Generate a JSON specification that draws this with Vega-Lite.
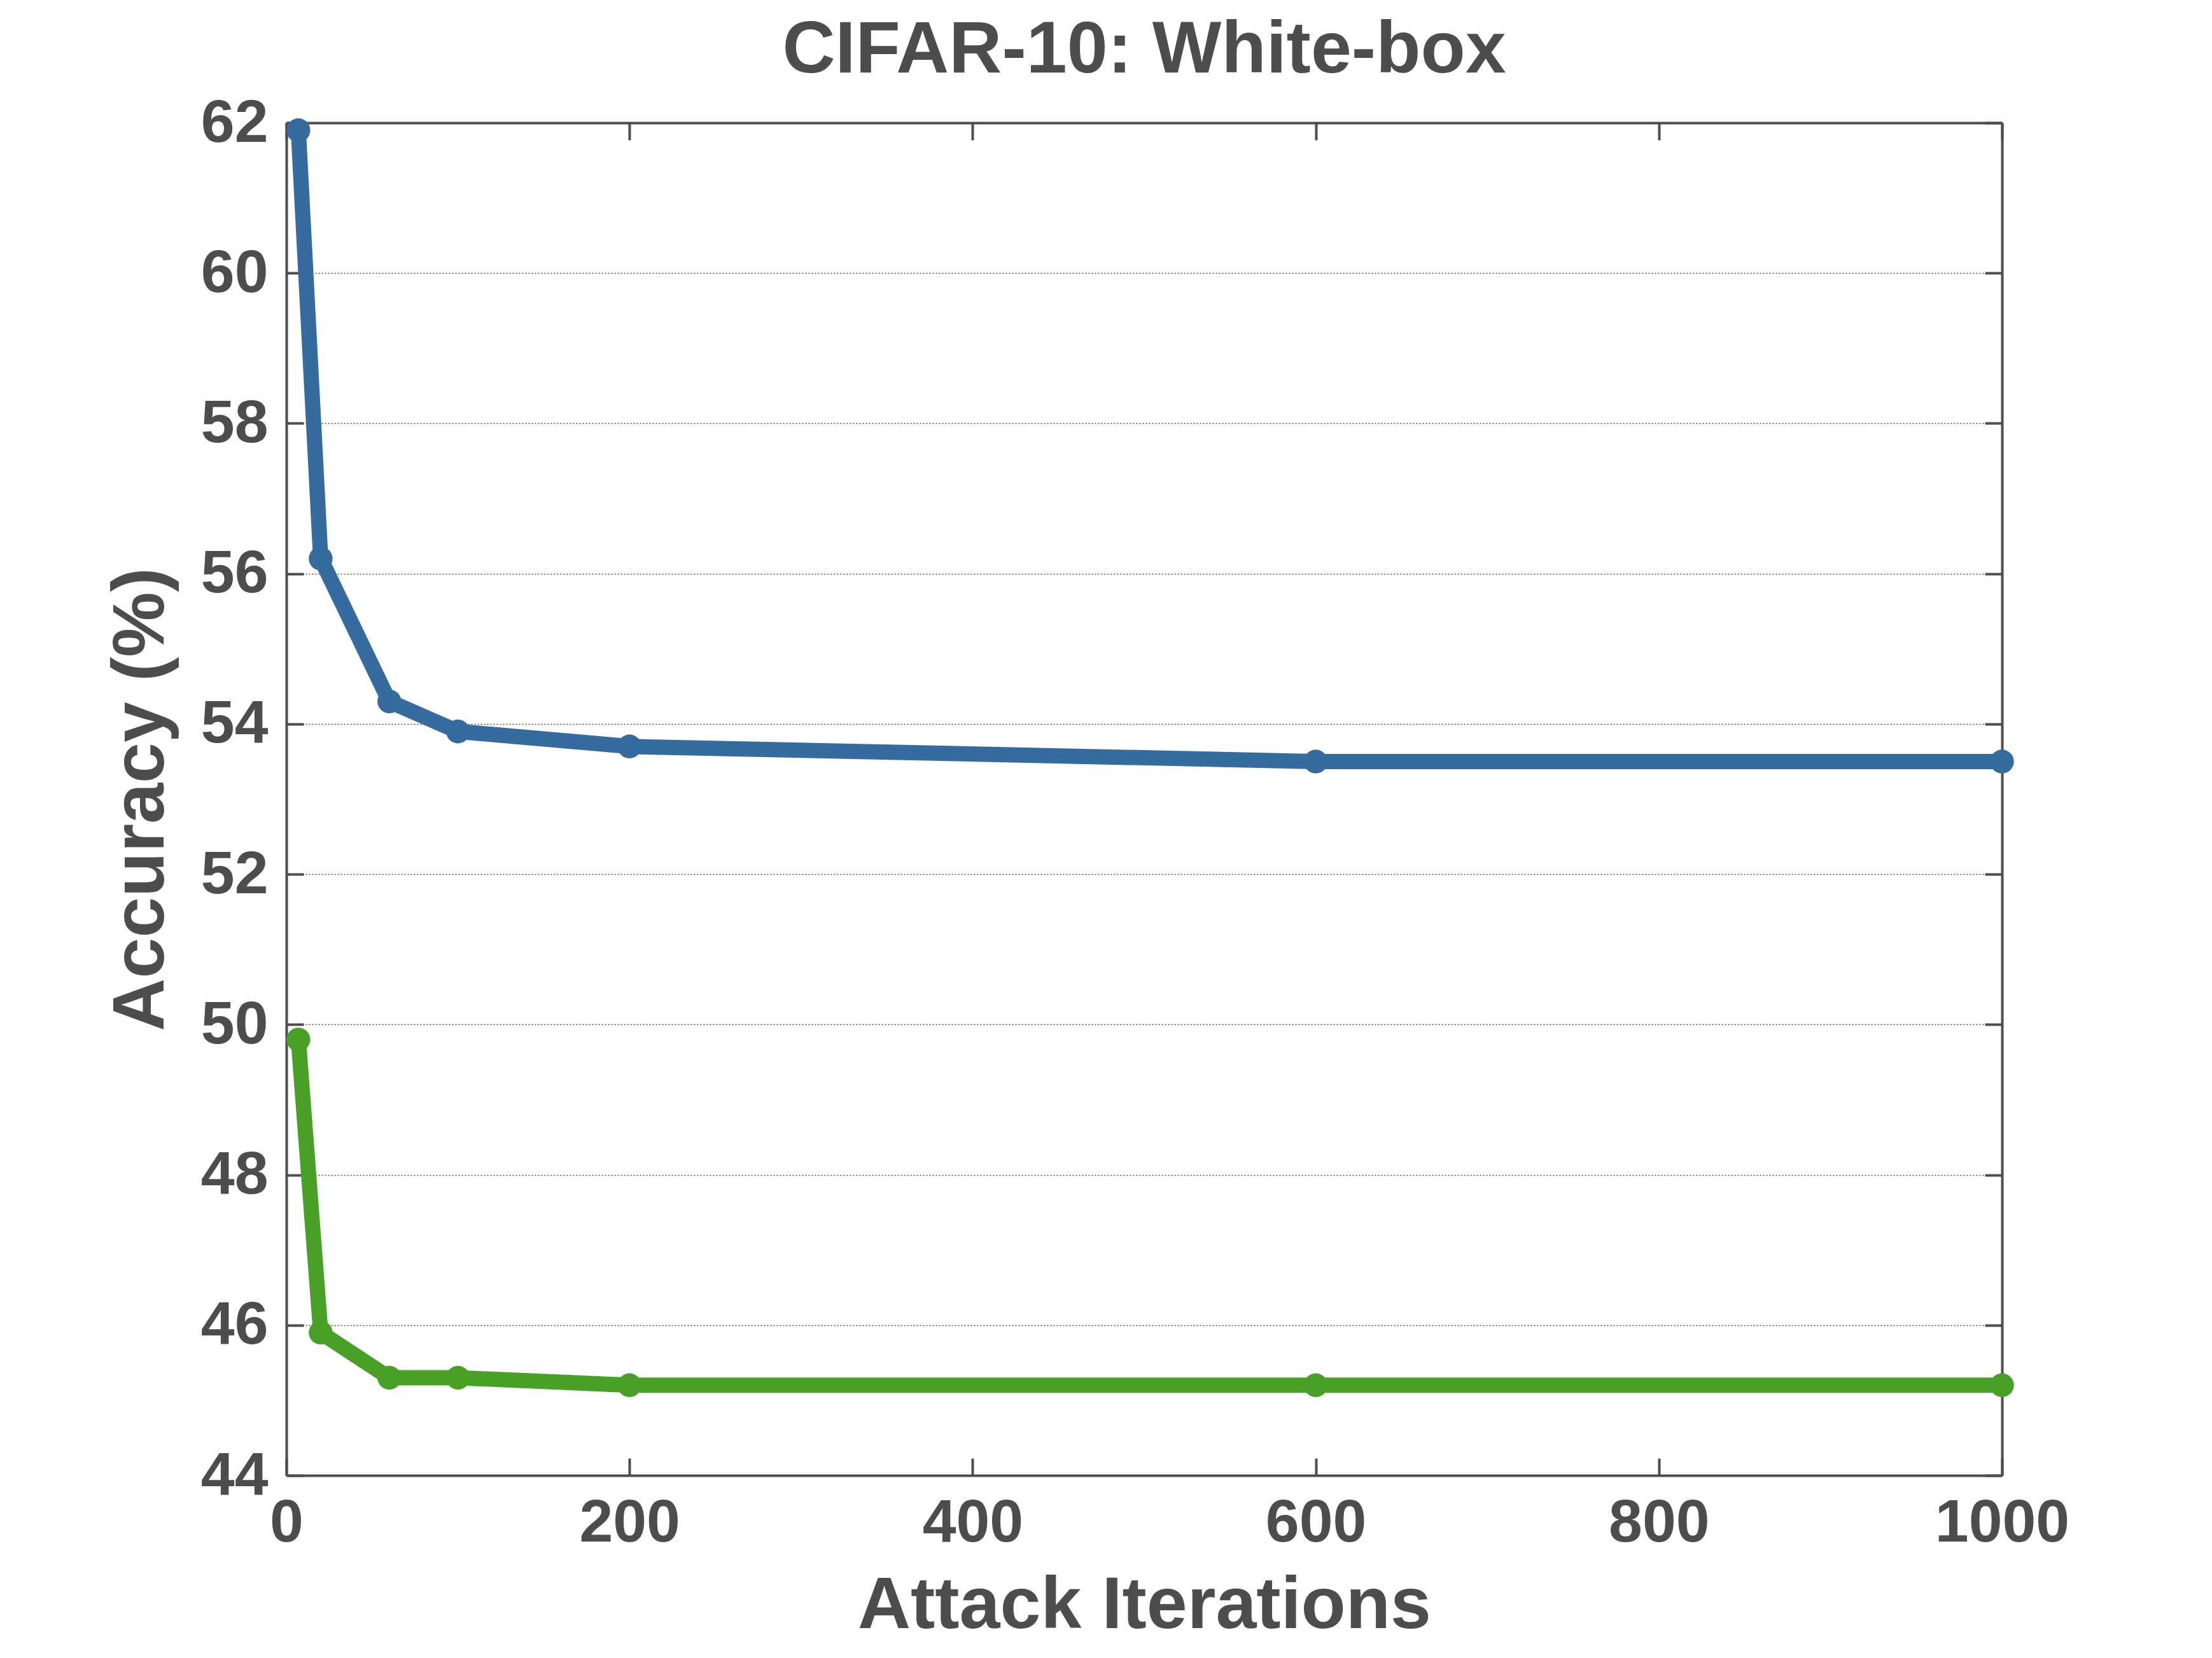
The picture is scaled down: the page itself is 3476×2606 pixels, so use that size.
{
  "$schema": "https://vega.github.io/schema/vega-lite/v6.json",
  "autosize": "none",
  "width": 2696,
  "height": 2126,
  "padding": {"left": 450, "top": 193, "right": 330, "bottom": 287},
  "background": "white",
  "title": {
    "text": "CIFAR-10: White-box",
    "fontSize": 115,
    "font": "Liberation Sans",
    "fontWeight": "bold",
    "color": "#4d4d4d",
    "anchor": "middle",
    "offset": 8
  },
  "config": {
    "view": {"stroke": null},
    "axis": {
      "labelFont": "Liberation Sans",
      "labelFontWeight": "bold",
      "labelFontSize": 95,
      "labelColor": "#4d4d4d",
      "titleFont": "Liberation Sans",
      "titleFontWeight": "bold",
      "titleFontSize": 115,
      "titleColor": "#4d4d4d",
      "domainColor": "#4d4d4d",
      "domainWidth": 4,
      "tickColor": "#4d4d4d",
      "tickWidth": 4,
      "tickSize": -27,
      "labelLimit": 0,
      "gridColor": "#444444",
      "gridDash": [2, 3],
      "gridWidth": 1.5
    }
  },
  "data": {
    "values": [
      {"iter": 7, "acc": 61.9, "series": "s1"},
      {"iter": 20, "acc": 56.2, "series": "s1"},
      {"iter": 60, "acc": 54.3, "series": "s1"},
      {"iter": 100, "acc": 53.9, "series": "s1"},
      {"iter": 200, "acc": 53.7, "series": "s1"},
      {"iter": 600, "acc": 53.5, "series": "s1"},
      {"iter": 1000, "acc": 53.5, "series": "s1"},
      {"iter": 7, "acc": 49.8, "series": "s2"},
      {"iter": 20, "acc": 45.9, "series": "s2"},
      {"iter": 60, "acc": 45.3, "series": "s2"},
      {"iter": 100, "acc": 45.3, "series": "s2"},
      {"iter": 200, "acc": 45.2, "series": "s2"},
      {"iter": 600, "acc": 45.2, "series": "s2"},
      {"iter": 1000, "acc": 45.2, "series": "s2"}
    ]
  },
  "resolve": {"axis": {"x": "independent", "y": "independent"}},
  "layer": [
    {
      "mark": {"type": "line", "strokeWidth": 24, "clip": false},
      "encoding": {
        "x": {
          "field": "iter", "type": "quantitative",
          "scale": {"domain": [0, 1000], "nice": false, "zero": false},
          "axis": {"orient": "bottom", "title": "Attack Iterations", "format": "d", "values": [0, 200, 400, 600, 800, 1000], "grid": false, "labelPadding": 55, "titlePadding": 26, "labelFlush": false}
        },
        "y": {
          "field": "acc", "type": "quantitative",
          "scale": {"domain": [44, 62], "nice": false, "zero": false},
          "axis": {"orient": "left", "title": "Accuracy (%)", "values": [44, 46, 48, 50, 52, 54, 56, 58, 60, 62], "grid": true, "labelPadding": 56, "titlePadding": 35, "labelFlush": false}
        },
        "color": {"field": "series", "type": "nominal", "legend": null, "scale": {"domain": ["s1", "s2"], "range": ["#366ba0", "#48a027"]}}
      }
    },
    {
      "mark": {"type": "point", "filled": true, "size": 1400, "opacity": 1, "clip": false},
      "encoding": {
        "x": {
          "field": "iter", "type": "quantitative",
          "axis": {"orient": "top", "title": null, "labels": false, "values": [0, 200, 400, 600, 800, 1000], "grid": false}
        },
        "y": {
          "field": "acc", "type": "quantitative",
          "axis": {"orient": "right", "title": null, "labels": false, "values": [44, 46, 48, 50, 52, 54, 56, 58, 60, 62], "grid": false}
        },
        "color": {"field": "series", "type": "nominal", "legend": null}
      }
    }
  ]
}
